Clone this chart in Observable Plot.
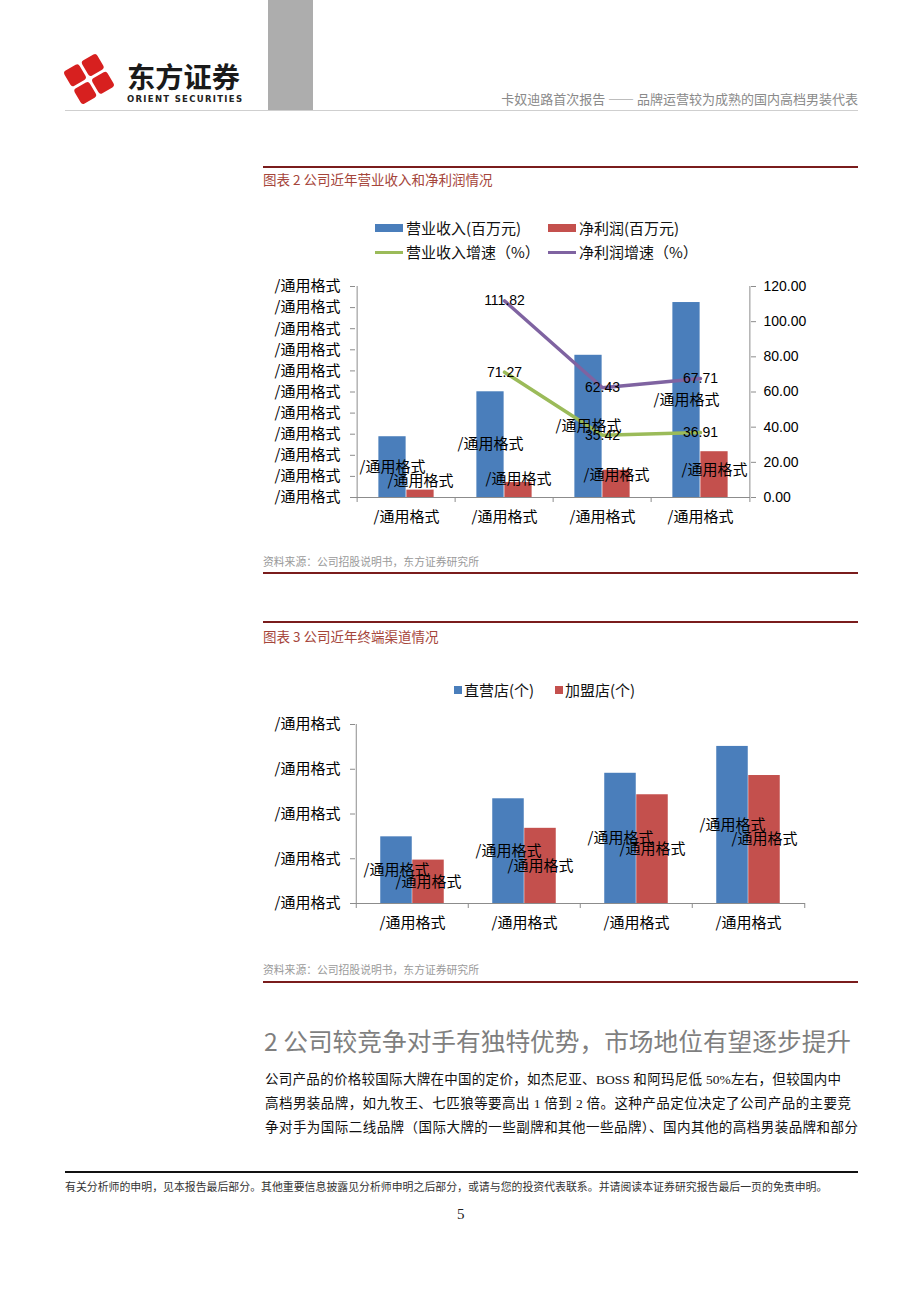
<!DOCTYPE html>
<html lang="zh-CN">
<head>
<meta charset="utf-8">
<script src="https://cdn.jsdelivr.net/npm/d3@7"></script>
<script src="https://cdn.jsdelivr.net/npm/@observablehq/plot@0.6"></script>
<style>
html,body{margin:0;padding:0;background:#fff;}
#page{position:relative;width:920px;height:1302px;overflow:hidden;font-family:"Noto Sans CJK SC","Noto Sans",sans-serif;color:#000;}
.t{position:absolute;white-space:nowrap;line-height:1;}
.rule{position:absolute;height:0;}
.redrule{position:absolute;left:263px;width:595px;height:0;border-top:2px solid #7a1c1c;}
.ctitle{position:absolute;left:263px;font-size:13.5px;color:#a5453a;white-space:nowrap;line-height:1;}
.src{position:absolute;left:263px;font-size:10.8px;color:#9a9a9a;white-space:nowrap;line-height:1;}
.chart{position:absolute;}
.sw{position:absolute;}
.lg{position:absolute;font-size:15px;white-space:nowrap;line-height:1;color:#111;}
.para{position:absolute;left:265px;font-size:13.5px;color:#111;white-space:nowrap;line-height:1;font-family:"Liberation Serif","Noto Sans CJK SC",serif;text-align:justify;text-align-last:justify;}
</style>
</head>
<body>
<div id="page">
  <!-- header -->
  <div class="rule" style="left:65px;top:110px;width:793px;border-top:1px solid #cfcfcf;"></div>
  <div style="position:absolute;left:268px;top:0;width:45px;height:110px;background:#adadad;"></div>
  <svg style="position:absolute;left:60px;top:48px" width="200" height="62">
    <g transform="translate(29,31) rotate(-30)" fill="#d7201f">
      <rect x="-19" y="-19" width="17.5" height="17.5" rx="3"/>
      <rect x="1.5" y="-19" width="17.5" height="17.5" rx="3"/>
      <rect x="-19" y="1.5" width="17.5" height="17.5" rx="3"/>
      <rect x="1.5" y="1.5" width="17.5" height="17.5" rx="3"/>
    </g>
    <text x="67" y="40" font-family="Noto Sans CJK SC" font-weight="bold" font-size="28" fill="#1a1a1a" textLength="113" lengthAdjust="spacingAndGlyphs">东方证券</text>
    <text x="67" y="54" font-family="DejaVu Sans" font-weight="bold" font-size="8.5" fill="#222" textLength="115" lengthAdjust="spacing">ORIENT SECURITIES</text>
  </svg>
  <div class="t" style="right:62px;top:92px;font-size:13px;color:#8a8a8a;">卡奴迪路首次报告 —— 品牌运营较为成熟的国内高档男装代表</div>

  <!-- chart 2 -->
  <div class="redrule" style="top:166px;"></div>
  <div class="ctitle" style="top:173px;">图表 2 公司近年营业收入和净利润情况</div>
  <div id="legend2"></div>
  <div class="chart" id="chart2" style="left:255px;top:269px;"></div>
  <div class="src" style="top:556px;">资料来源：公司招股说明书，东方证券研究所</div>
  <div class="redrule" style="top:572px;"></div>

  <!-- chart 3 -->
  <div class="redrule" style="top:621px;"></div>
  <div class="ctitle" style="top:630px;">图表 3 公司近年终端渠道情况</div>
  <div id="legend3"></div>
  <div class="chart" id="chart3" style="left:255px;top:710px;"></div>
  <div class="src" style="top:964px;">资料来源：公司招股说明书，东方证券研究所</div>
  <div class="redrule" style="top:981px;"></div>

  <!-- body text -->
  <div class="t" style="left:264px;top:1028px;font-size:24.7px;color:#7f7f7f;">2 公司较竞争对手有独特优势，市场地位有望逐步提升</div>
  <div class="para" style="top:1073px;width:576px;">公司产品的价格较国际大牌在中国的定价，如杰尼亚、BOSS 和阿玛尼低 50%左右，但较国内中</div>
  <div class="para" style="top:1097px;width:586px;">高档男装品牌，如九牧王、七匹狼等要高出 1 倍到 2 倍。这种产品定位决定了公司产品的主要竞</div>
  <div class="para" style="top:1121px;width:593px;">争对手为国际二线品牌（国际大牌的一些副牌和其他一些品牌）、国内其他的高档男装品牌和部分</div>

  <!-- footer -->
  <div class="rule" style="left:65px;top:1171px;width:793px;border-top:2px solid #111;"></div>
  <div class="t" style="left:65px;top:1181px;font-size:10.9px;color:#333;">有关分析师的申明，见本报告最后部分。其他重要信息披露见分析师申明之后部分，或请与您的投资代表联系。并请阅读本证券研究报告最后一页的免责申明。</div>
  <div class="t" style="left:457px;top:1207px;font-size:15px;color:#222;font-family:'Liberation Serif',serif;">5</div>
</div>

<script>
// ---------------- data ----------------
const categories = ["P1", "P2", "P3", "P4"];
const xLabels = ["/通用格式", "/通用格式", "/通用格式", "/通用格式"];
const valueLabel = "/通用格式";

// 图表2 (bar values; left axis labels are unreadable)
const revenue = [288, 501, 674, 924];          // 营业收入(百万元)
const netProfit = [35, 71, 129, 217];          // 净利润(百万元)
const revenueGrowth = [null, 71.27, 35.42, 36.91]; // 营业收入增速（%）
const profitGrowth = [null, 111.82, 62.43, 67.71]; // 净利润增速（%）
const leftTicks2 = [0, 100, 200, 300, 400, 500, 600, 700, 800, 900, 1000];
const rightTicks2 = [0, 20, 40, 60, 80, 100, 120];

// 图表3
const directStores = [149, 234, 291, 351];     // 直营店(个)
const franchiseStores = [97, 168, 243, 286];   // 加盟店(个)
const ticks3 = [0, 100, 200, 300, 400];

const legend2 = [
  {name: "营业收入(百万元)", kind: "bar", color: "#4a7ebb"},
  {name: "净利润(百万元)", kind: "bar", color: "#c4504d"},
  {name: "营业收入增速（%）", kind: "line", color: "#9bbb59"},
  {name: "净利润增速（%）", kind: "line", color: "#7f63a1"}
];
const legend3 = [
  {name: "直营店(个)", color: "#4a7ebb"},
  {name: "加盟店(个)", color: "#c4504d"}
];

// ---------------- styles ----------------
const BLUE = "#4a7ebb", RED = "#c4504d", GREEN = "#9bbb59", PURPLE = "#7f63a1", AX = "#8c8c8c";
const CJK = "Noto Sans CJK SC";
const NUM = "Liberation Sans";

// ---------------- legends (HTML) ----------------
function place(parent, cls, style, text) {
  const el = document.createElement("div");
  el.className = cls;
  Object.assign(el.style, style);
  if (text) el.textContent = text;
  parent.appendChild(el);
  return el;
}
{
  const L = document.getElementById("legend2");
  const pos = [[375, 228], [548, 228], [375, 252], [548, 252]];
  legend2.forEach((d, i) => {
    const [x, y] = pos[i];
    if (d.kind === "bar") place(L, "sw", {left: x + "px", top: (y - 4) + "px", width: "28px", height: "8px", background: d.color});
    else place(L, "sw", {left: x + "px", top: (y - 1.5) + "px", width: "28px", height: "3px", background: d.color});
    place(L, "lg", {left: (x + 31) + "px", top: (y - 8) + "px"}, d.name);
  });
}
{
  const L = document.getElementById("legend3");
  const pos = [[454, 690], [555, 690]];
  legend3.forEach((d, i) => {
    const [x, y] = pos[i];
    place(L, "sw", {left: x + "px", top: (y - 4) + "px", width: "8px", height: "8px", background: d.color});
    place(L, "lg", {left: (x + 10) + "px", top: (y - 8) + "px"}, d.name);
  });
}

// ---------------- chart 2 ----------------
{
  const W = 575, H = 270, ml = 100, mr = 80, mt = 17, mb = 42;
  const bw = (W - ml - mr) / categories.length;
  const barW = 28;
  const k = leftTicks2[leftTicks2.length - 1] / rightTicks2[rightTicks2.length - 1];
  const rows = categories.map((c, i) => ({c, rev: revenue[i], np: netProfit[i], rg: revenueGrowth[i], pg: profitGrowth[i]}));
  const rg = rows.filter(d => d.rg != null);
  const pg = rows.filter(d => d.pg != null);
  const last = categories[categories.length - 1];
  const chart = Plot.plot({
    width: W, height: H, marginLeft: ml, marginRight: mr, marginTop: mt, marginBottom: mb,
    style: {fontFamily: CJK, fontSize: "15px", overflow: "visible", background: "transparent"},
    x: {type: "band", domain: categories, padding: 0},
    y: {domain: [0, leftTicks2[leftTicks2.length - 1]]},
    marks: [
      Plot.barY(rows, {x: "c", y: "rev", fill: BLUE, insetLeft: bw / 2 - barW, insetRight: bw / 2}),
      Plot.barY(rows, {x: "c", y: "np", fill: RED, insetLeft: bw / 2, insetRight: bw / 2 - barW}),
      Plot.ruleY([0], {stroke: AX}),
      Plot.ruleX([categories[0]], {dx: -bw / 2, y1: 0, y2: leftTicks2[leftTicks2.length - 1], stroke: AX}),
      Plot.ruleX([last], {dx: bw / 2, y1: 0, y2: leftTicks2[leftTicks2.length - 1], stroke: AX}),
      Plot.ruleX(categories, {dx: -bw / 2, y1: 0, y2: 0, insetBottom: -5, stroke: AX}),
      Plot.ruleX([last], {dx: bw / 2, y1: 0, y2: 0, insetBottom: -5, stroke: AX}),
      Plot.axisY({ticks: leftTicks2, tickFormat: () => valueLabel, tickSize: 5, tickPadding: 10, stroke: AX, fill: "#000", fontSize: 15, fontFamily: CJK, label: null}),
      Plot.axisY({anchor: "right", ticks: rightTicks2.map(v => v * k), tickFormat: d => (d / k).toFixed(2), tickSize: 5, tickPadding: 8, stroke: AX, fill: "#000", fontSize: 14, fontFamily: NUM, label: null}),
      Plot.axisX({tickSize: 0, tickPadding: 14, tickFormat: d => xLabels[categories.indexOf(d)], fill: "#000", fontSize: 15, fontFamily: CJK, label: null}),
      Plot.line(rg, {x: "c", y: d => d.rg * k, stroke: GREEN, strokeWidth: 3.5}),
      Plot.line(pg, {x: "c", y: d => d.pg * k, stroke: PURPLE, strokeWidth: 3.5}),
      Plot.text(rows, {x: "c", y: d => d.rev / 2, text: () => valueLabel, dx: -barW / 2, fill: "#000", fontSize: 15, fontFamily: CJK}),
      Plot.text(rows, {x: "c", y: d => 0.3 * d.np + 65, text: () => valueLabel, dx: barW / 2, fill: "#000", fontSize: 15, fontFamily: CJK}),
      Plot.text(rg, {x: "c", y: d => d.rg * k, text: d => d.rg.toFixed(2), fill: "#000", fontSize: 14, fontFamily: NUM}),
      Plot.text(pg, {x: "c", y: d => d.pg * k, text: d => d.pg.toFixed(2), fill: "#000", fontSize: 14, fontFamily: NUM})
    ]
  });
  document.getElementById("chart2").appendChild(chart);
}

// ---------------- chart 3 ----------------
{
  const W = 575, H = 240, ml = 100, mr = 25, mt = 14, mb = 47;
  const bw = (W - ml - mr) / categories.length;
  const barW = 32;
  const rows = categories.map((c, i) => ({c, d: directStores[i], f: franchiseStores[i]}));
  const last = categories[categories.length - 1];
  const top = ticks3[ticks3.length - 1];
  const chart = Plot.plot({
    width: W, height: H, marginLeft: ml, marginRight: mr, marginTop: mt, marginBottom: mb,
    style: {fontFamily: CJK, fontSize: "15px", overflow: "visible", background: "transparent"},
    x: {type: "band", domain: categories, padding: 0},
    y: {domain: [0, top]},
    marks: [
      Plot.barY(rows, {x: "c", y: "d", fill: BLUE, insetLeft: bw / 2 - barW, insetRight: bw / 2}),
      Plot.barY(rows, {x: "c", y: "f", fill: RED, insetLeft: bw / 2, insetRight: bw / 2 - barW}),
      Plot.ruleY([0], {stroke: AX}),
      Plot.ruleX([categories[0]], {dx: -bw / 2, y1: 0, y2: top, stroke: AX}),
      Plot.ruleX(categories, {dx: -bw / 2, y1: 0, y2: 0, insetBottom: -5, stroke: AX}),
      Plot.ruleX([last], {dx: bw / 2, y1: 0, y2: 0, insetBottom: -5, stroke: AX}),
      Plot.axisY({ticks: ticks3, tickFormat: () => valueLabel, tickSize: 5, tickPadding: 10, stroke: AX, fill: "#000", fontSize: 15, fontFamily: CJK, label: null}),
      Plot.axisX({tickSize: 0, tickPadding: 14, tickFormat: d => xLabels[categories.indexOf(d)], fill: "#000", fontSize: 15, fontFamily: CJK, label: null}),
      Plot.text(rows, {x: "c", y: d => d.d / 2, text: () => valueLabel, dx: -barW / 2, fill: "#000", fontSize: 15, fontFamily: CJK}),
      Plot.text(rows, {x: "c", y: d => d.f / 2, text: () => valueLabel, dx: barW / 2, fill: "#000", fontSize: 15, fontFamily: CJK})
    ]
  });
  document.getElementById("chart3").appendChild(chart);
}
</script>
</body>
</html>
